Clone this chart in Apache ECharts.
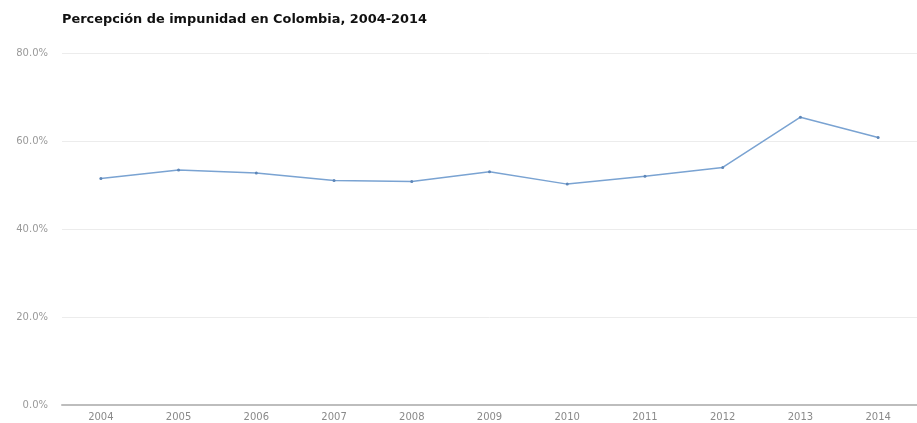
<!DOCTYPE html>
<html><head><meta charset="utf-8">
<script src="https://cdn.jsdelivr.net/npm/echarts@6/dist/echarts.min.js"></script>
<style>html,body{margin:0;padding:0;background:#fff}#c{width:917px;height:423px}</style>
</head><body><div id="c"></div>
<script>
const titleText = 'Percepción de impunidad en Colombia, 2004-2014';
const years = ['2004','2005','2006','2007','2008','2009','2010','2011','2012','2013','2014'];
const impunity = [51.5, 53.4, 52.7, 51.0, 50.8, 53.0, 50.2, 52.0, 54.0, 65.4, 60.8];

const F = 'DejaVu Sans, Verdana, sans-serif';
const chart = echarts.init(document.getElementById('c'), null, {renderer: 'canvas'});
chart.setOption({
  animation: false,
  backgroundColor: '#fff',
  title: {
    text: titleText, left: 57, top: 8,
    textStyle: {fontFamily: F, fontSize: 12.9, fontWeight: 'bold', color: '#111'}
  },
  grid: {left: 62, top: 53, width: 864, height: 352},
  xAxis: {
    type: 'category', data: years, boundaryGap: true,
    axisLine: {lineStyle: {color: '#bdbdbd', width: 2}},
    axisTick: {show: false},
    axisLabel: {color: '#8a8a8a', fontSize: 10, fontFamily: F, margin: 7}
  },
  yAxis: {
    type: 'value', min: 0, max: 80, interval: 20,
    axisLine: {show: false}, axisTick: {show: false},
    axisLabel: {color: '#9a9a9a', fontSize: 10, fontFamily: F, margin: 14,
      formatter: v => v.toFixed(1) + '%'},
    splitLine: {lineStyle: {color: '#ececec', width: 1}}
  },
  series: [{
    type: 'line', data: impunity,
    symbol: 'circle', symbolSize: 3,
    lineStyle: {color: '#7aa3d2', width: 1.5},
    itemStyle: {color: '#5d86b8'}
  }]
});
</script></body></html>
